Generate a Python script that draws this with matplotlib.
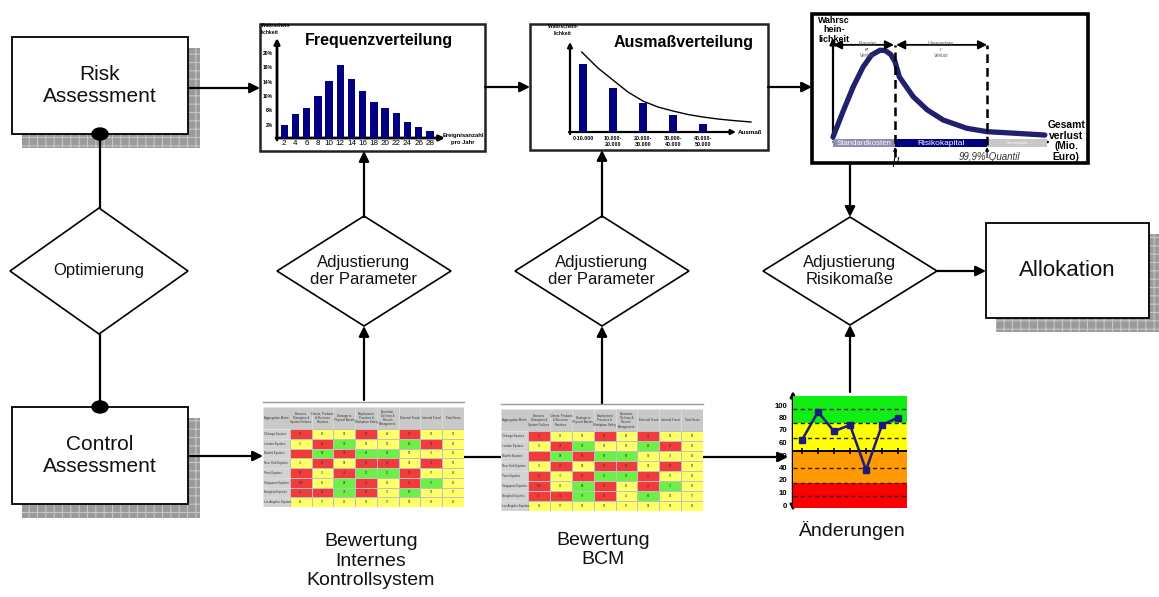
import numpy as np
import matplotlib
matplotlib.use('Agg')
import matplotlib.pyplot as plt
from matplotlib.patches import Rectangle, Polygon, Ellipse
from matplotlib.colors import ListedColormap

plt.rcParams['font.family'] = ['Liberation Sans', 'DejaVu Sans']
plt.rcParams['hatch.linewidth'] = 0.8

W, H = 1159, 597
NAVY = '#000080'

# Frequenzverteilung: Ereignisanzahl pro Jahr vs. Wahrscheinlichkeit (%)
freq_events = [2, 4, 6, 8, 10, 12, 14, 16, 18, 20, 22, 24, 26, 28]
freq_prob = [2.0, 5.1, 6.7, 9.9, 14.3, 18.7, 14.8, 11.5, 8.4, 6.7, 5.3, 2.8, 1.4, 0.3]
freq_ticks = [2, 6, 10, 14, 18, 22]
freq_tick_labels = ['2%', '6%', '10%', '14%', '18%', '20%']
freq_base = -1.72

# Ausmassverteilung: Schadensklassen
size_classes = ['0-10.000', '10.000-\n20.000', '20.000-\n30.000', '30.000-\n40.000', '40.000-\n50.000']
size_prob = [68, 44, 29, 17, 8]
size_curve_x = [-0.04, 0.5, 1.0, 1.5, 2.0, 2.5, 3.0, 3.5, 4.0, 4.5, 5.0, 5.6]
size_curve_y = [80, 64, 52, 40, 31, 25, 21, 17.5, 15, 13, 11.5, 10]

# Gesamtverlustverteilung
loss_x = [0, 5, 9.5, 14, 18, 22, 24.5, 27, 29, 31, 37.5, 44, 51.5, 62.5, 72, 84, 99]
loss_y = [0, 28, 52, 72, 84.5, 89.5, 89, 85, 77.5, 62, 41.5, 28, 17.5, 9, 5.5, 4, 2]
loss_mu = 29
loss_q999 = 72

# Aenderungen der Kennzahl
change_period = [1, 2, 3, 4, 5, 6, 7]
change_score = [62, 89, 69, 74, 36, 74, 80]
score_ticks = [0, 10, 20, 40, 50, 60, 70, 80, 100]
score_bands = [(-3, 18, '#ff0000'), (18, 53, '#ff9900'), (53, 76, '#ffff00'), (76, 115, '#11ee11')]
score_dashed = [7, 18, 39, 64, 76, 94]
score_solid = 53

# Bewertungstabellen
table_header = ['Aggregation Metric', 'Business\nDisruption &\nSystem Failures',
                'Clients, Products\n& Business\nPractices', 'Damage to\nPhysical Assets',
                'Employment\nPractices &\nWorkplace Safety', 'Execution,\nDelivery &\nProcess\nManagement',
                'External Fraud', 'Internal Fraud', 'Total Score']
table_rows = ['Chicago Equities', 'London Equities', 'Madrid Equities', 'New York Equities',
              'Paris Equities', 'Singapore Equities', 'Bangkok Equities', 'Los Angeles Equities']
# 0 = rot, 1 = gelb, 2 = gruen
table_rating = [
    [0, 1, 1, 0, 1, 0, 1, 1],
    [1, 0, 2, 1, 1, 2, 0, 1],
    [0, 2, 0, 2, 2, 1, 1, 1],
    [1, 0, 1, 0, 0, 1, 0, 1],
    [0, 1, 0, 2, 2, 0, 1, 1],
    [0, 1, 2, 0, 1, 0, 2, 1],
    [0, 0, 2, 0, 1, 2, 1, 1],
    [1, 1, 1, 1, 1, 1, 1, 1],
]
table_values = [
    ['31', '63', '54', '62', '64', '32', '52', '56'],
    ['75', '48', '90', '52', '52', '84', '36', '62'],
    ['', '88', '38', '86', '89', '56', '73', '60'],
    ['75', '30', '58', '33', '48', '54', '30', '56'],
    ['36', '75', '40', '92', '92', '30', '67', '60'],
    ['100', '62', '88', '40', '62', '42', '75', '60'],
    ['45', '32', '78', '32', '71', '86', '56', '57'],
    ['62', '57', '63', '59', '67', '58', '63', '60'],
]
rating_colors = ['#f23b3b', '#ffff66', '#6bf045']

fig = plt.figure(figsize=(W / 100, H / 100), dpi=100)
ax = fig.add_axes([0, 0, 1, 1])
ax.set_xlim(0, W)
ax.set_ylim(H, 0)
ax.axis('off')


def px_axes(x0, y0, x1, y1):
    a = fig.add_axes([x0 / W, 1 - y1 / H, (x1 - x0) / W, (y1 - y0) / H])
    a.set_facecolor('none')
    for s in a.spines.values():
        s.set_visible(False)
    a.tick_params(length=0)
    return a


def arrow(x0, y0, x1, y1, lw=1.6, ms=15, style='-|>'):
    ax.annotate('', xy=(x1, y1), xytext=(x0, y0),
                arrowprops=dict(arrowstyle=style, color='black', lw=lw,
                                mutation_scale=ms, shrinkA=0, shrinkB=0))


def line(xs, ys, lw=1.6):
    ax.plot(xs, ys, color='black', lw=lw, solid_capstyle='butt')


def shadow_box(x0, y0, x1, y1, text, fs):
    ax.add_patch(Rectangle((x0 + 10, y0 + 11), x1 - x0 + 2, y1 - y0 + 3,
                           fc='#9a9a9a', ec='#c6c6c6', hatch='++', lw=0))
    ax.add_patch(Rectangle((x0, y0), x1 - x0, y1 - y0, fc='white', ec='black', lw=1.3))
    ax.text((x0 + x1) / 2, (y0 + y1) / 2, text, ha='center', va='center',
            fontsize=fs, linespacing=1.2, color='#111111')


def diamond(cx, cy, hw, hh, text):
    ax.add_patch(Polygon([(cx - hw, cy), (cx, cy - hh), (cx + hw, cy), (cx, cy + hh)],
                         closed=True, fc='white', ec='black', lw=1.2))
    ax.text(cx, cy, text, ha='center', va='center', fontsize=12,
            linespacing=1.18, color='#111111')


# --- Boxen und Rauten ---
shadow_box(12, 37, 188, 134, 'Risk\nAssessment', 15)
shadow_box(12, 407, 188, 504, 'Control\nAssessment', 15)
shadow_box(986, 223, 1149, 318, 'Allokation', 16)

line([100, 100], [134, 208])
line([100, 100], [334, 407])
ax.add_patch(Ellipse((100, 134), 16, 12, color='black'))
ax.add_patch(Ellipse((100, 407), 16, 12, color='black'))
diamond(99, 271, 89, 63, 'Optimierung')
diamond(364, 271, 87, 55, 'Adjustierung\nder Parameter')
diamond(602, 271, 87, 55, 'Adjustierung\nder Parameter')
diamond(850, 271, 87, 54, 'Adjustierung\nRisikomaße')

# --- Verbindungen ---
arrow(188, 88, 260, 88)
arrow(485, 87, 530, 87)
arrow(768, 87, 812, 87)
arrow(364, 217, 364, 151)
arrow(364, 400, 364, 326)
arrow(602, 217, 602, 150)
arrow(602, 404, 602, 326)
arrow(850, 163, 850, 217)
arrow(850, 392, 850, 325)
arrow(937, 271, 986, 271)
arrow(188, 456, 263, 456)
line([464, 501], [457, 457])
arrow(703, 457, 788, 457)

# --- Frequenzverteilung ---
ax.add_patch(Rectangle((260, 24), 225, 127, fc='white', ec='#222222', lw=1.8))
fa = px_axes(277, 42, 440, 138)
fa.bar(freq_events, np.array(freq_prob) - freq_base, bottom=freq_base, width=1.3, color=NAVY)
fa.set_xlim(0.7, 29.8)
fa.set_ylim(freq_base, 25.1)
fa.set_xticks(freq_events)
fa.set_xticklabels([str(e) for e in freq_events], fontsize=5.8)
fa.set_yticks(freq_ticks)
fa.set_yticklabels(freq_tick_labels, fontsize=3.6, fontweight='bold')
fa.tick_params(axis='x', pad=1.5)
fa.tick_params(axis='y', pad=3)
arrow(277, 140, 277, 38, lw=2, ms=8)
arrow(276, 138, 445, 138, lw=2, ms=8)
ax.text(379, 41, 'Frequenzverteilung', ha='center', va='center', fontsize=11.5, fontweight='bold')
ax.text(261, 29, 'Wahrschein\nlichkeit', ha='left', va='center', fontsize=3.6,
        fontweight='bold', linespacing=1.4)
ax.text(463, 139, 'Ereignisanzahl\npro Jahr', ha='center', va='center', fontsize=4.2,
        fontweight='bold', linespacing=1.3)

# --- Ausmassverteilung ---
ax.add_patch(Rectangle((530, 24), 238, 126, fc='white', ec='#222222', lw=1.8))
sa = px_axes(570, 44, 762, 132)
sa.bar(range(len(size_prob)), size_prob, width=0.24, color=NAVY)
sa.plot(size_curve_x, size_curve_y, color='black', lw=1.0, clip_on=False)
sa.set_xlim(-0.43, 5.97)
sa.set_ylim(0, 88)
sa.set_yticks([])
sa.set_xticks(range(len(size_classes)))
sa.set_xticklabels(size_classes, fontsize=3.9, fontweight='bold', linespacing=1.3)
sa.tick_params(axis='x', pad=3)
arrow(570, 134, 570, 42, lw=1.6, ms=7)
arrow(569, 132, 736, 132, lw=1.6, ms=7)
ax.text(684, 43, 'Ausmaßverteilung', ha='center', va='center', fontsize=11.5, fontweight='bold')
ax.text(563, 30, 'Wahrschein-\nlichkeit', ha='center', va='center', fontsize=3.6,
        fontweight='bold', linespacing=1.4)
ax.text(738, 132, 'Ausmaß', ha='left', va='center', fontsize=4.5, fontweight='bold')

# --- Gesamtverlustverteilung ---
ax.add_patch(Rectangle((812, 14), 276, 149, fc='white', ec='black', lw=2.6))
la = px_axes(833, 40, 1047, 137)
la.set_xlim(0, 100)
la.set_ylim(0, 100)
la.set_xticks([])
la.set_yticks([])
la.barh(-6.2, [loss_mu, loss_q999 - loss_mu, 100 - loss_q999], left=[0, loss_mu, loss_q999],
        height=8.2, color=['#8d8db3', NAVY, '#c8c8c8'], clip_on=False)
la.text(loss_mu / 2, -6.2, 'Standardkosten', ha='center', va='center', fontsize=5.6,
        color='white', clip_on=False)
la.text((loss_mu + loss_q999) / 2, -6.2, 'Risikokapital', ha='center', va='center',
        fontsize=6, color='white', clip_on=False)
la.text((loss_q999 + 100) / 2, -6.2, 'Stresskapital', ha='center', va='center',
        fontsize=2.6, color='white', clip_on=False)
la.plot(loss_x, loss_y, color='#20206c', lw=3.8, solid_capstyle='round', clip_on=False)
la.plot([loss_mu, loss_mu], [-20.5, 95], color='black', lw=1.8, ls=(0, (3.5, 2)), clip_on=False)
la.plot([loss_q999, loss_q999], [-8, 95], color='black', lw=1.8, ls=(0, (3.5, 2)), clip_on=False)
for a0, a1 in [(0, loss_mu - 0.5), (loss_mu + 0.5, loss_q999)]:
    la.annotate('', xy=(a1, 95), xytext=(a0, 95), annotation_clip=False,
                arrowprops=dict(arrowstyle='<|-|>', color='black', lw=1.3,
                                mutation_scale=13, shrinkA=0, shrinkB=0))
la.text(loss_mu / 2 + 1.5, 90, 'Erwartet\ner\nVerlust', ha='center', va='center', fontsize=3.4,
        style='italic', color='#555555', linespacing=1.3, clip_on=False)
la.text((loss_mu + loss_q999) / 2, 90, 'Unerwartete\nr\nVerlust', ha='center', va='center',
        fontsize=3.4, style='italic', color='#555555', linespacing=1.3, clip_on=False)
for xq in (loss_mu, loss_q999):
    la.annotate('', xy=(xq, -10.5), xytext=(xq, -20), annotation_clip=False,
                arrowprops=dict(arrowstyle='-|>', color='black', lw=0.8,
                                mutation_scale=5, shrinkA=0, shrinkB=0))
la.text(loss_mu, -24.5, 'μ', ha='center', va='center', fontsize=8.5, style='italic',
        clip_on=False)
la.text(loss_q999 + 1, -20.5, '99,9%-Quantil', ha='center', va='center', fontsize=7,
        style='italic', color='#333333', clip_on=False)
arrow(833, 139, 833, 38, lw=1.6, ms=9)
arrow(833, 142, 1050, 142, lw=1.2, ms=9)
ax.text(834, 30, 'Wahrsc\nhein-\nlichkeit', ha='center', va='center', fontsize=6.4,
        fontweight='bold', linespacing=1.05)
ax.text(1066, 141, 'Gesamt\nverlust\n(Mio.\nEuro)', ha='center', va='center', fontsize=7.4,
        fontweight='bold', linespacing=1.05)


# --- Bewertungstabellen ---
def rating_table(x0, y0, x1, y1):
    ta = px_axes(x0, y0, x1, y1)
    ta.set_xlim(-1.24, 8)
    ta.set_ylim(8, -2.26)
    ta.set_xticks([])
    ta.set_yticks([])
    ta.add_patch(Rectangle((-1.24, -2.26), 9.24, 2.26, fc='#c9c9c9', ec='#e4e4e4', lw=0.4))
    ta.add_patch(Rectangle((-1.24, 0), 1.24, 8, fc='#d2d2d2', ec='#e4e4e4', lw=0.4))
    ta.pcolormesh(np.arange(9), np.arange(9), np.array(table_rating),
                  cmap=ListedColormap(rating_colors), vmin=-0.5, vmax=2.5,
                  edgecolors='#c0c0c0', linewidth=0.4)
    ta.plot([-1.24, 8], [-2.75, -2.75], color='#9a9a9a', lw=1.0, clip_on=False)
    for j in range(9):
        xc = -0.62 if j == 0 else j - 0.5
        ta.text(xc, -1.13, table_header[j], ha='center', va='center', fontsize=2.1,
                linespacing=1.1, color='#333333')
    for i in range(8):
        ta.plot([-1.24, 0], [i, i], color='#e4e4e4', lw=0.4)
        ta.text(-1.18, i + 0.5, table_rows[i], ha='left', va='center', fontsize=2.1,
                color='#333333')
        for j in range(8):
            ta.text(j + 0.5, i + 0.5, table_values[i][j], ha='center', va='center',
                    fontsize=2.1, color='#333333')
    for j in range(1, 8):
        ta.plot([j, j], [-2.26, 0], color='#e4e4e4', lw=0.4)


rating_table(263, 407, 464, 507)
rating_table(501, 409, 703, 511)

ax.text(371, 561, 'Bewertung\nInternes\nKontrollsystem', ha='center', va='center',
        fontsize=14, linespacing=1.2, color='#111111')
ax.text(603, 550, 'Bewertung\nBCM', ha='center', va='center', fontsize=14,
        linespacing=1.2, color='#111111')
ax.text(852, 530, 'Änderungen', ha='center', va='center', fontsize=14, color='#111111')

# --- Aenderungen ---
score_anchor = [-20, 0, 10, 20, 40, 50, 60, 70, 80, 100, 140]
index_anchor = [-2, 0, 1, 2, 3, 4, 5, 6, 7, 8, 10]


def score_fwd(v):
    return np.interp(v, score_anchor, index_anchor)


def score_inv(v):
    return np.interp(v, index_anchor, score_anchor)


ca = px_axes(793, 396, 907, 508)
ca.set_yscale('function', functions=(score_fwd, score_inv))
ca.set_ylim(score_inv(-0.24), score_inv(8.72))
ca.set_xlim(0.44, 7.56)
for lo, hi, col in score_bands:
    ca.axhspan(lo, hi, color=col, lw=0)
for yv in score_dashed:
    ca.axhline(yv, color='#222222', lw=1.0, ls=(0, (3, 2.2)))
ca.axhline(score_solid, color='black', lw=1.4)
ca.plot(change_period, [score_solid] * len(change_period), ls='none', marker='|',
        ms=4, mew=1.2, color='black')
ca.plot(change_period, change_score, color='#1a1a80', lw=1.8, marker='s', ms=4.2,
        mfc='#1a1a80', mec='#1a1a80')
ca.set_xticks([])
ca.set_yticks(score_ticks)
ca.set_yticklabels([str(s) for s in score_ticks], fontsize=5.6, fontweight='bold')
ca.tick_params(axis='y', pad=4)
arrow(793, 440, 793, 391, lw=1.8, ms=8)
arrow(793, 440, 793, 511, lw=1.8, ms=8)

fig.savefig('out.png', dpi=100)
